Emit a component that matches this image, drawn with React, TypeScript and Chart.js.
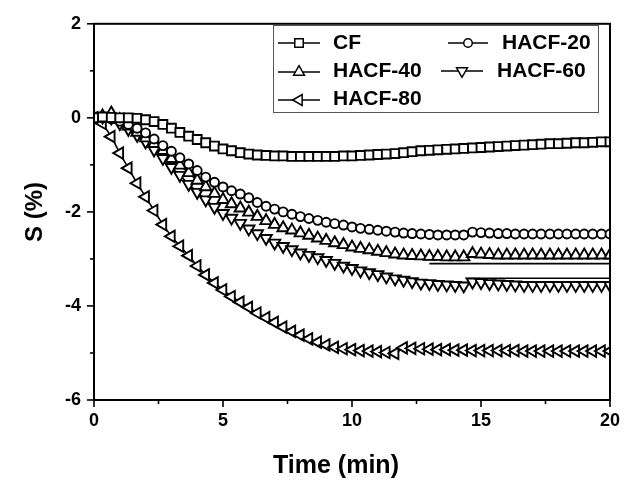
import React, { useEffect, useRef } from 'react';
import { Chart, registerables } from 'chart.js';

Chart.register(...registerables);

// ---------------- data ----------------
const TIME = [
  0, 0.33, 0.67, 1.0, 1.33, 1.67, 2.0, 2.33, 2.67, 3.0,
  3.33, 3.67, 4.0, 4.33, 4.67, 5.0, 5.33, 5.67, 6.0, 6.33,
  6.67, 7.0, 7.33, 7.67, 8.0, 8.33, 8.67, 9.0, 9.33, 9.67,
  10.0, 10.33, 10.67, 11.0, 11.33, 11.67, 12.0, 12.33, 12.67, 13.0,
  13.33, 13.67, 14.0, 14.33, 14.67, 15.0, 15.33, 15.67, 16.0, 16.33,
  16.67, 17.0, 17.33, 17.67, 18.0, 18.33, 18.67, 19.0, 19.33, 19.67,
  20.0,
];

const CF = [
  0, 0.02, 0.01, 0.0, 0.0, -0.01, -0.04, -0.08, -0.14, -0.22,
  -0.31, -0.39, -0.46, -0.53, -0.6, -0.66, -0.7, -0.74, -0.77, -0.79,
  -0.8, -0.81, -0.81, -0.82, -0.82, -0.82, -0.82, -0.82, -0.82, -0.81,
  -0.81, -0.8, -0.79, -0.78, -0.77, -0.76, -0.74, -0.72, -0.7, -0.69,
  -0.68, -0.67, -0.66, -0.65, -0.64, -0.63, -0.62, -0.61, -0.6, -0.59,
  -0.58, -0.57, -0.56, -0.55, -0.55, -0.54, -0.53, -0.53, -0.52, -0.51,
  -0.51,
];

const HACF_20 = [
  0, 0.0, -0.02, -0.07, -0.14, -0.22, -0.32, -0.45, -0.59, -0.71,
  -0.85, -0.98, -1.12, -1.26, -1.37, -1.47, -1.55, -1.62, -1.7, -1.8,
  -1.88, -1.94, -2.0, -2.05, -2.1, -2.14, -2.18, -2.22, -2.25, -2.28,
  -2.32, -2.35, -2.37, -2.39, -2.41, -2.43, -2.45, -2.46, -2.47, -2.48,
  -2.49, -2.49, -2.49, -2.49, -2.43, -2.44, -2.45, -2.46, -2.46, -2.47,
  -2.47, -2.47, -2.47, -2.47, -2.47, -2.47, -2.47, -2.47, -2.47, -2.47,
  -2.47,
];

const HACF_40 = [
  0, 0.04, 0.1, -0.04, -0.18, -0.31, -0.43, -0.55, -0.7, -0.87,
  -1.01, -1.17, -1.33, -1.47, -1.61, -1.74, -1.83, -1.92, -2.01, -2.1,
  -2.19, -2.27, -2.34, -2.39, -2.45, -2.5, -2.56, -2.61, -2.66, -2.7,
  -2.75, -2.78, -2.81, -2.84, -2.87, -2.9, -2.92, -2.93, -2.94, -2.95,
  -2.95, -2.96, -2.96, -2.96, -2.89, -2.9, -2.91, -2.92, -2.92, -2.92,
  -2.92, -2.92, -2.92, -2.92, -2.92, -2.92, -2.92, -2.92, -2.92, -2.92,
  -2.92,
];

const HACF_60 = [
  0, 0.02, 0.0, -0.12, -0.24, -0.37, -0.51, -0.68, -0.86, -1.05,
  -1.22, -1.41, -1.58, -1.74, -1.9, -2.03, -2.13, -2.24, -2.36, -2.46,
  -2.56, -2.66, -2.73, -2.8, -2.87, -2.92, -2.97, -3.03, -3.09, -3.15,
  -3.2, -3.25, -3.29, -3.33, -3.38, -3.42, -3.45, -3.48, -3.51, -3.52,
  -3.54, -3.55, -3.56, -3.57, -3.49, -3.5, -3.52, -3.53, -3.54, -3.55,
  -3.56, -3.56, -3.56, -3.56, -3.56, -3.56, -3.56, -3.56, -3.56, -3.56,
  -3.56,
];

const HACF_80 = [
  0, -0.12, -0.4, -0.75, -1.07, -1.39, -1.68, -1.97, -2.27, -2.52,
  -2.73, -2.93, -3.15, -3.34, -3.51, -3.66, -3.8, -3.92, -4.03, -4.15,
  -4.25, -4.35, -4.45, -4.54, -4.62, -4.7, -4.77, -4.83, -4.88, -4.91,
  -4.93, -4.95, -4.96, -4.97, -4.99, -5.01, -4.89, -4.9, -4.91, -4.92,
  -4.93, -4.93, -4.94, -4.94, -4.95, -4.95, -4.95, -4.95, -4.95, -4.95,
  -4.96, -4.96, -4.96, -4.96, -4.96, -4.96, -4.96, -4.96, -4.96, -4.96,
  -4.96,
];

// straight trailing line segments visible under the HACF-40 / HACF-60 markers
const TAIL_40_T = [13.0, 20.0];
const TAIL_40 = [-3.1, -3.1];
const TAIL_60_T = [14.4, 20.0];
const TAIL_60 = [-3.41, -3.41];

const SERIES_NAMES = ['CF', 'HACF-20', 'HACF-40', 'HACF-60', 'HACF-80'];
const X_MAJOR = [0, 5, 10, 15, 20];
const X_MINOR = [2.5, 7.5, 12.5, 17.5];
const Y_MAJOR = [-6, -4, -2, 0, 2];
const Y_MINOR = [-5, -3, -1, 1];
const X_TITLE = 'Time (min)';
const Y_TITLE = 'S (%)';

const FONT = '"Liberation Sans", Arial, Helvetica, sans-serif';

type Marker = { style: string; rot: number; r: number };
const MARKERS: Marker[] = [
  { style: 'rect', rot: 0, r: 6.3 },
  { style: 'circle', rot: 0, r: 4.5 },
  { style: 'triangle', rot: 0, r: 6.6 },
  { style: 'triangle', rot: 180, r: 6.6 },
  { style: 'triangle', rot: 270, r: 6.6 },
];
const MARK_LW = 1.9;

function drawMarker(ctx: CanvasRenderingContext2D, m: Marker, x: number, y: number) {
  ctx.beginPath();
  if (m.style === 'rect') {
    const s = Math.SQRT1_2 * m.r;
    ctx.rect(x - s, y - s, 2 * s, 2 * s);
  } else if (m.style === 'circle') {
    ctx.arc(x, y, m.r, 0, Math.PI * 2);
  } else {
    let rad = (m.rot * Math.PI) / 180;
    ctx.moveTo(x + Math.sin(rad) * m.r, y - Math.cos(rad) * m.r);
    rad += (2 * Math.PI) / 3;
    ctx.lineTo(x + Math.sin(rad) * m.r, y - Math.cos(rad) * m.r);
    rad += (2 * Math.PI) / 3;
    ctx.lineTo(x + Math.sin(rad) * m.r, y - Math.cos(rad) * m.r);
    ctx.closePath();
  }
  ctx.fillStyle = '#fff';
  ctx.fill();
  ctx.strokeStyle = '#000';
  ctx.lineWidth = 1.5;
  ctx.stroke();
}

const framePlugin = {
  id: 'originFrame',
  afterDatasetsDraw(chart: any) {
    const { ctx, chartArea: a, scales } = chart;
    const xs = scales.x;
    const ys = scales.y;
    ctx.save();
    ctx.strokeStyle = '#000';
    ctx.lineWidth = 2;
    ctx.strokeRect(a.left, a.top, a.right - a.left, a.bottom - a.top);
    ctx.lineWidth = 1.6;
    const tick = (x1: number, y1: number, x2: number, y2: number) => {
      ctx.beginPath();
      ctx.moveTo(x1, y1);
      ctx.lineTo(x2, y2);
      ctx.stroke();
    };
    X_MAJOR.forEach((v) => { const p = xs.getPixelForValue(v); tick(p, a.bottom, p, a.bottom + 7); });
    X_MINOR.forEach((v) => { const p = xs.getPixelForValue(v); tick(p, a.bottom, p, a.bottom + 4); });
    Y_MAJOR.forEach((v) => { const p = ys.getPixelForValue(v); tick(a.left - 7, p, a.left, p); });
    Y_MINOR.forEach((v) => { const p = ys.getPixelForValue(v); tick(a.left - 4, p, a.left, p); });

    // axis titles
    ctx.fillStyle = '#000';
    ctx.textAlign = 'center';
    ctx.textBaseline = 'alphabetic';
    ctx.font = `bold 25px ${FONT}`;
    ctx.fillText(X_TITLE, 336, 473);
    ctx.save();
    ctx.translate(42, 212);
    ctx.rotate(-Math.PI / 2);
    ctx.font = `bold 24px ${FONT}`;
    ctx.fillText(Y_TITLE, 0, 0);
    ctx.restore();

    // legend box
    ctx.strokeStyle = '#555';
    ctx.lineWidth = 1;
    ctx.fillStyle = '#fff';
    ctx.fillRect(273.5, 25.5, 325, 87);
    ctx.strokeRect(273.5, 25.5, 325, 87);

    const items = [
      { line: [278, 320], mx: 299, y: 43, tx: 333, ty: 49 },
      { line: [448, 488], mx: 468, y: 43, tx: 502, ty: 49 },
      { line: [278, 320], mx: 299, y: 72, tx: 333, ty: 77 },
      { line: [441, 483], mx: 462, y: 71, tx: 497, ty: 77 },
      { line: [278, 320], mx: 299, y: 100, tx: 333, ty: 105 },
    ];
    items.forEach((it, i) => {
      ctx.strokeStyle = '#000';
      ctx.lineWidth = 1.5;
      ctx.beginPath();
      ctx.moveTo(it.line[0], it.y);
      ctx.lineTo(it.line[1], it.y);
      ctx.stroke();
      drawMarker(ctx, { ...MARKERS[i], r: MARKERS[i].r * 0.95 }, it.mx, it.y);
      ctx.fillStyle = '#000';
      ctx.textAlign = 'left';
      ctx.font = `bold 21px ${FONT}`;
      ctx.fillText(SERIES_NAMES[i], it.tx, it.ty);
    });
    ctx.restore();
  },
};

function makeSeries(i: number, values: number[]) {
  const m = MARKERS[i];
  return {
    label: SERIES_NAMES[i],
    data: TIME.map((t, k) => ({ x: t, y: values[k] })),
    showLine: true,
    borderColor: '#000',
    borderWidth: 1.6,
    pointStyle: m.style,
    pointRotation: m.rot,
    pointRadius: m.r,
    pointBackgroundColor: '#fff',
    pointBorderColor: '#000',
    pointBorderWidth: MARK_LW,
    tension: 0,
  };
}

function makeTail(ts: number[], vs: number[]) {
  return {
    label: '',
    data: ts.map((t, k) => ({ x: t, y: vs[k] })),
    showLine: true,
    borderColor: '#000',
    borderWidth: 1.6,
    pointRadius: 0,
    tension: 0,
  };
}

export default function App() {
  const ref = useRef<HTMLCanvasElement | null>(null);

  useEffect(() => {
    if (!ref.current) return;
    const tickFont = { family: FONT, size: 18, weight: 'bold' as const };
    const chart = new Chart(ref.current, {
      type: 'scatter',
      data: {
        datasets: [
          makeSeries(0, CF),
          makeSeries(1, HACF_20),
          makeSeries(2, HACF_40),
          makeSeries(3, HACF_60),
          makeSeries(4, HACF_80),
          makeTail(TAIL_40_T, TAIL_40),
          makeTail(TAIL_60_T, TAIL_60),
        ] as any,
      },
      options: {
        responsive: false,
        animation: false,
        devicePixelRatio: 1,
        layout: { padding: { top: 21, right: 24, left: 0, bottom: 0 } },
        plugins: { legend: { display: false }, tooltip: { enabled: false } },
        scales: {
          x: {
            type: 'linear',
            min: 0,
            max: 20,
            grid: { display: false, drawTicks: false },
            border: { display: false },
            ticks: { stepSize: 5, padding: 10, color: '#000', font: tickFont },
            afterFit: (s: any) => { s.height = 81; },
          },
          y: {
            type: 'linear',
            min: -6,
            max: 2,
            grid: { display: false, drawTicks: false },
            border: { display: false },
            ticks: { stepSize: 2, padding: 13, color: '#000', font: tickFont },
            afterFit: (s: any) => { s.width = 94; },
          },
        },
      } as any,
      plugins: [framePlugin],
    });
    return () => chart.destroy();
  }, []);

  return (
    <div style={{ position: 'absolute', left: 0, top: 0, width: 634, height: 481, background: '#fff' }}>
      <canvas ref={ref} width={634} height={481} style={{ display: 'block' }} />
    </div>
  );
}
